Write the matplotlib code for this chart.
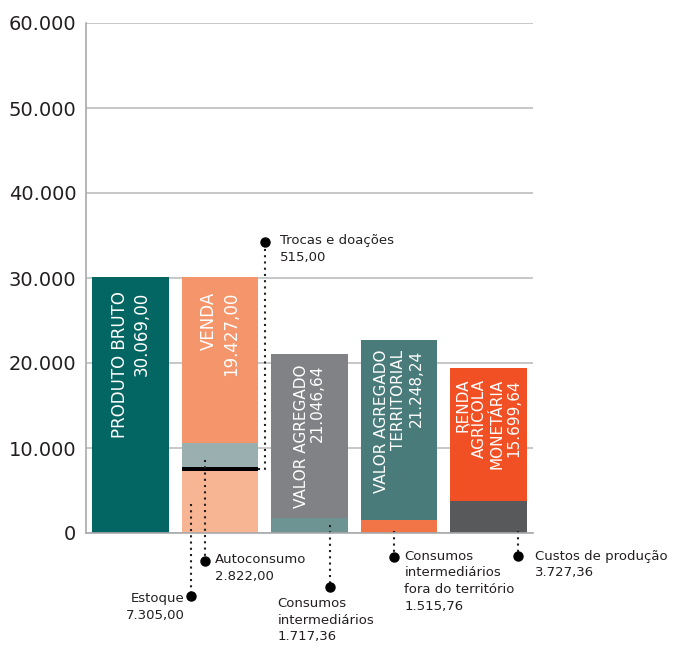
import matplotlib.pyplot as plt

# Valores (R$) por componente
produto_bruto = 30069.00
venda = 19427.00
trocas = 515.00
autoconsumo = 2822.00
estoque = 7305.00
valor_agregado = 21046.64
consumos_intermediarios = 1717.36
valor_agregado_territorial = 21248.24
consumos_fora = 1515.76
renda_monetaria = 15699.64
custos_producao = 3727.36

bar_labels = [
    "PRODUTO BRUTO\n30.069,00",
    "VENDA\n19.427,00",
    "VALOR AGREGADO\n21.046,64",
    "VALOR AGREGADO\nTERRITORIAL\n21.248,24",
    "RENDA\nAGRÍCOLA\nMONETÁRIA\n15.699,64",
]
yticks = [0, 10000, 20000, 30000, 40000, 50000, 60000]
ytick_labels = ["0", "10.000", "20.000", "30.000", "40.000", "50.000", "60.000"]

W = 0.855
fig = plt.figure(figsize=(6.73, 6.48), dpi=100)
ax = fig.add_axes([86 / 673, 1 - 533 / 648, 447 / 673, 510 / 648])

# barra 1
ax.bar(0, produto_bruto, W, color="#046663")
# barra 2: estoque + trocas + autoconsumo + venda
b = 0
for val, col in [(estoque, "#f8b593"), (trocas, "#000000"),
                 (autoconsumo, "#9aafb0"), (venda, "#f5956b")]:
    ax.bar(1, val, W, bottom=b, color=col)
    b += val
# barra 3
ax.bar(2, valor_agregado, W, color="#818285")
ax.bar(2, consumos_intermediarios, W, color="#6e9393")
# barra 4
ax.bar(3, consumos_fora, W, color="#f27548")
ax.bar(3, valor_agregado_territorial, W, bottom=consumos_fora, color="#4a7b7b")
# barra 5
ax.bar(4, custos_producao, W, color="#58595b")
ax.bar(4, renda_monetaria, W, bottom=custos_producao, color="#f15025")

tops = [produto_bruto, estoque + trocas + autoconsumo + venda, valor_agregado,
        consumos_fora + valor_agregado_territorial, custos_producao + renda_monetaria]
offs = [1650, 1650, 1200, 1200, 1300]
sizes = [12, 12, 11, 11, 11]
spacing = [1.25, 1.25, 1.1, 1.18, 1.18]
for i, txt in enumerate(bar_labels):
    ax.text(i, tops[i] - offs[i], txt, rotation=90, ha="center", va="top",
            multialignment="right", color="white", fontsize=sizes[i],
            linespacing=spacing[i])

ax.set_xlim(-0.5, 4.5)
ax.set_ylim(0, 60000)
ax.set_yticks(yticks)
ax.set_yticklabels(ytick_labels, fontsize=14, color="#231f20")
ax.set_xticks([])
ax.tick_params(axis="y", length=0, pad=7)
ax.grid(axis="y", color="#bcbec0", linewidth=1.2)
ax.set_axisbelow(True)
for s in ["top", "right"]:
    ax.spines[s].set_visible(False)
ax.spines["left"].set_color("#a7a9ac")
ax.spines["bottom"].set_color("#a7a9ac")
ax.spines["left"].set_linewidth(1.2)
ax.spines["bottom"].set_linewidth(1.2)

# chamadas com linha pontilhada
dot = dict(marker="o", color="black", markersize=6.5, clip_on=False, zorder=5)
line = dict(color="#231f20", linestyle=(0, (1, 2)), linewidth=1.5, clip_on=False)
note = dict(fontsize=9.5, color="#231f20", va="top", linespacing=1.38)

# trocas e doações
ytroca = estoque + trocas / 2
ax.plot([1 + W / 2, 1.5, 1.5], [ytroca, ytroca, 34200], **line)
ax.plot(1.5, 34200, **dot)
ax.text(1.665, 35200, "Trocas e doações\n515,00", **note)

# autoconsumo
ax.plot([0.83, 0.83], [8600, -3300], **line)
ax.plot(0.83, -3300, **dot)
ax.text(0.94, -2400, "Autoconsumo\n2.822,00", **note)

# estoque
ax.plot([0.68, 0.68], [3400, -7400], **line)
ax.plot(0.68, -7400, **dot)
ax.text(0.605, -6950, "Estoque\n7.305,00", ha="right", multialignment="right",
        **note)

# consumos intermediários
ax.plot([2.23, 2.23], [900, -6350], **line)
ax.plot(2.23, -6350, **dot)
ax.text(1.64, -7500, "Consumos\nintermediários\n1.717,36", **note)

# consumos fora do território
ax.plot([2.94, 2.94], [250, -2800], **line)
ax.plot(2.94, -2800, **dot)
ax.text(3.06, -1950, "Consumos\nintermediários\nfora do território\n1.515,76", **note)

# custos de produção
ax.plot([4.33, 4.33], [250, -2700], **line)
ax.plot(4.33, -2700, **dot)
ax.text(4.52, -1950, "Custos de produção\n3.727,36", **note)

fig.savefig("out.png", dpi=100)
